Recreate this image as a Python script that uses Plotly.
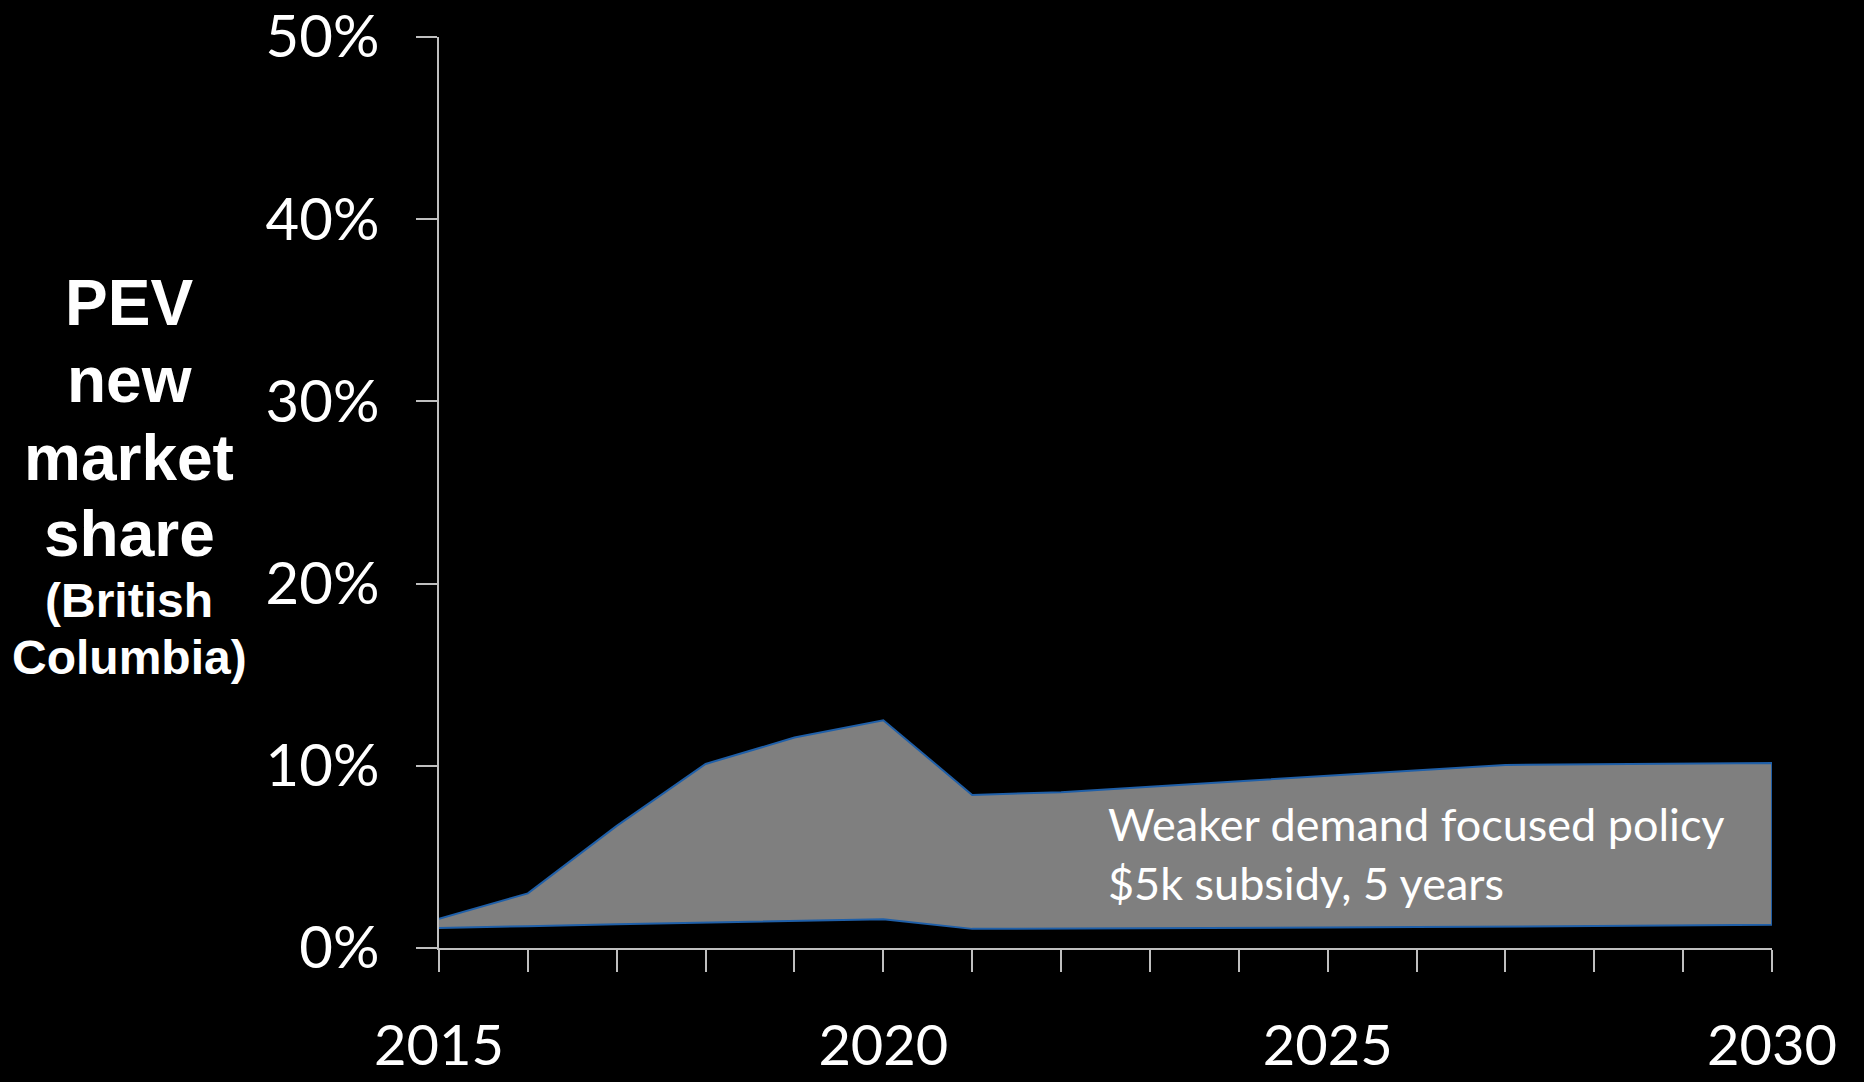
import plotly.graph_objects as go

# Projected PEV share of new vehicle sales, British Columbia (%)
years = list(range(2015, 2031))
upper_share = [1.6, 3.0, 6.7, 10.1, 11.55, 12.5, 8.4, 8.55, 8.85, 9.15, 9.45, 9.75, 10.05, 10.08, 10.12, 10.15]
lower_share = [1.1, 1.2, 1.3, 1.4, 1.5, 1.58, 1.05, 1.07, 1.09, 1.11, 1.13, 1.15, 1.18, 1.2, 1.23, 1.27]

y_ticks = [0, 10, 20, 30, 40, 50]
y_tick_labels = ["0%", "10%", "20%", "30%", "40%", "50%"]
x_ticks = [2015, 2020, 2025, 2030]
x_tick_labels = ["2015", "2020", "2025", "2030"]

title_lines = ["PEV", "new", "market", "share"]
subtitle_lines = ["(British", "Columbia)"]
band_label = "Weaker demand focused policy<br>$5k subsidy, 5 years"

AXIS_GREY = "#bfbfbf"
EDGE_BLUE = "#1f5fa8"

W, H = 1864, 1082
ML, MR, MT, MB = 439, 92, 37, 134

fig = go.Figure()

# Shaded band between the low and high projections, outlined as one polygon
fig.add_trace(go.Scatter(
    x=years + years[::-1],
    y=upper_share + lower_share[::-1],
    mode="lines",
    fill="toself",
    fillcolor="#7f7f7f",
    line=dict(color=EDGE_BLUE, width=2),
    hoverinfo="skip",
    showlegend=False,
))

fig.update_layout(
    width=W,
    height=H,
    paper_bgcolor="black",
    plot_bgcolor="black",
    margin=dict(l=ML, r=MR, t=MT, b=MB, pad=0, autoexpand=False),
    showlegend=False,
)

fig.update_xaxes(
    range=[2015, 2030],
    automargin=False,
    tickmode="array",
    tickvals=x_ticks,
    ticktext=x_tick_labels,
    ticks="outside",
    ticklen=22,
    tickwidth=2,
    tickcolor=AXIS_GREY,
    minor=dict(dtick=1, tick0=2015, ticks="outside", ticklen=22, tickwidth=2, tickcolor=AXIS_GREY),
    showline=True,
    linecolor=AXIS_GREY,
    linewidth=2,
    showgrid=False,
    zeroline=False,
    tickfont=dict(family="Lato", size=56, color="white"),
    ticklabelstandoff=26,
)

fig.update_yaxes(
    range=[0, 50],
    automargin=False,
    tickmode="array",
    tickvals=y_ticks,
    ticktext=y_tick_labels,
    ticks="outside",
    ticklen=21,
    tickwidth=2,
    tickcolor=AXIS_GREY,
    showline=True,
    linecolor=AXIS_GREY,
    linewidth=2,
    showgrid=False,
    zeroline=False,
    tickfont=dict(family="Lato", size=58, color="white"),
    ticklabelstandoff=25,
)

plot_w = W - ML - MR
plot_h = H - MT - MB


def paper_x(px):
    return (px - ML) / plot_w


def paper_y(py):
    return 1 - (py - MT) / plot_h


# Axis title, stacked word by word to the left of the axis
title_y = [303, 380, 458, 534]
for text, ypx in zip(title_lines, title_y):
    fig.add_annotation(
        text=text, xref="paper", yref="paper",
        x=paper_x(129), y=paper_y(ypx),
        xanchor="center", yanchor="middle", showarrow=False,
        font=dict(family="Liberation Sans", size=64, color="white", weight="bold"),
    )
sub_y = [600, 657]
for text, ypx in zip(subtitle_lines, sub_y):
    fig.add_annotation(
        text=text, xref="paper", yref="paper",
        x=paper_x(129), y=paper_y(ypx),
        xanchor="center", yanchor="middle", showarrow=False,
        font=dict(family="Liberation Sans", size=48, color="white", weight="bold"),
    )

# Scenario label inside the band
fig.add_annotation(
    text=band_label, x=2022.5, y=8.4, xref="x", yref="y",
    xanchor="left", yanchor="top", align="left", showarrow=False,
    font=dict(family="Lato", size=45, color="white"),
)

fig.write_html("out.html")
